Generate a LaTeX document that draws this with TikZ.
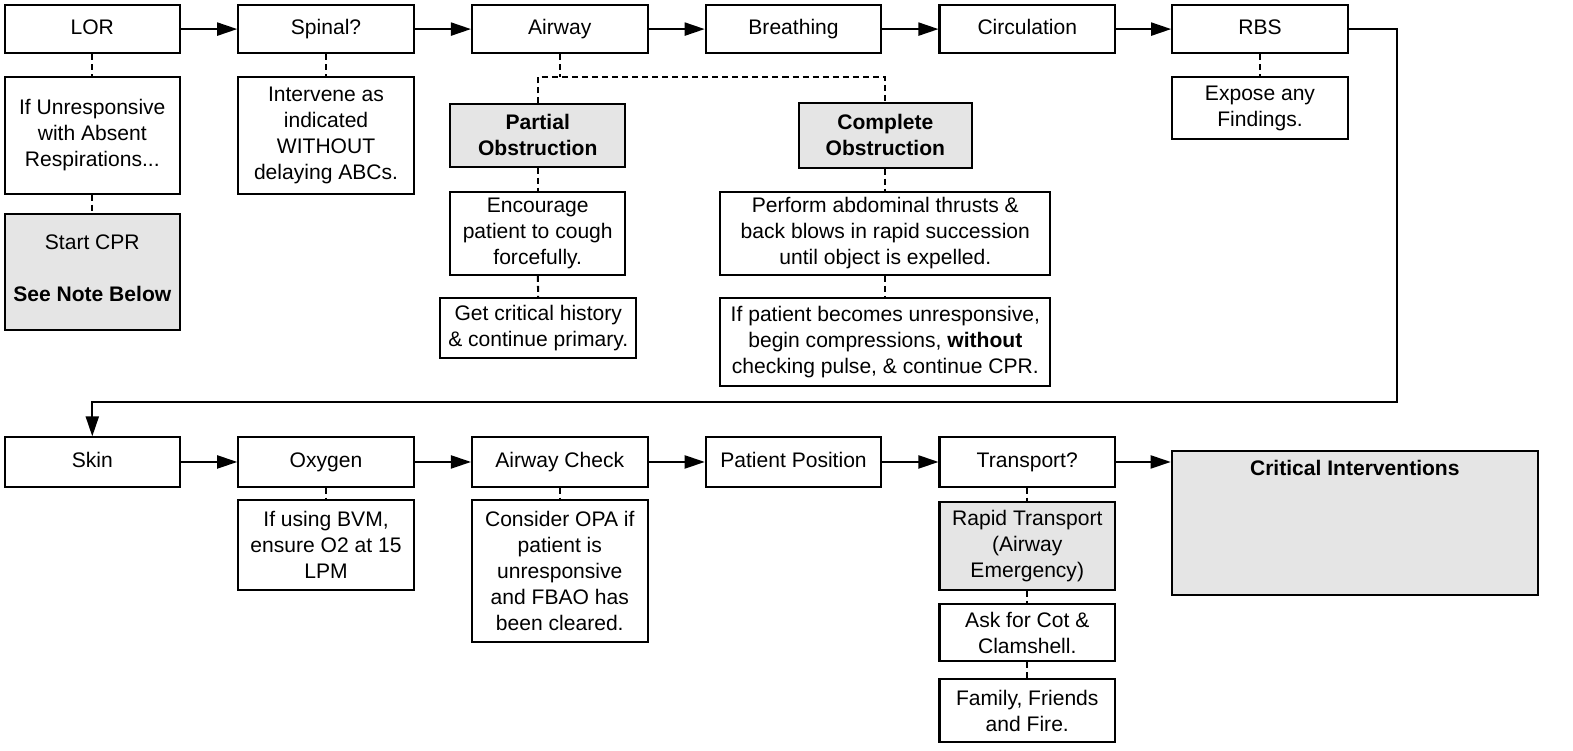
\documentclass[tikz,border=0pt]{standalone}
\usepackage{fontspec}
\setmainfont{Liberation Sans}
\usetikzlibrary{arrows.meta}
\definecolor{boxgray}{RGB}{229,229,229}
\begin{document}
\begin{tikzpicture}[x=0.5pt,y=-0.5pt,
  bx/.style={draw=black, line width=1pt, fill=white, inner sep=0pt, align=center,
    font=\fontsize{10.5}{13}\selectfont},
  gbx/.style={bx, fill=boxgray},
  one/.style={text height=8pt, text depth=2.6pt},
  sz/.style 2 args={minimum width=#1*0.5pt, minimum height=#2*0.5pt},
  conn/.style={line width=1pt, -{Triangle[length=10pt,width=6.5pt]}},
  dsh/.style={line width=1pt, dash pattern=on 3pt off 2pt}]
\useasboundingbox (0,0) rectangle (1568,748);
\fill[white] (0,0) rectangle (1568,748);

% top row
\node[bx, one, sz={175}{48}] (lor) at (92,29) {LOR};
\node[bx, one, sz={175}{48}] (spinal) at (325,29) {Spinal?};
\node[bx, one, sz={175}{48}] (airway) at (558,29) {Airway};
\node[bx, one, sz={175}{48}] (breath) at (791,29) {Breathing};
\node[bx, one, sz={175}{48}] (circ) at (1024,29) {Circulation};
\node[bx, one, sz={175}{48}] (rbs) at (1256,29) {RBS};

\node[bx, sz={175}{116}] (unresp) at (92,135) {If Unresponsive\\with Absent\\Respirations...};
\node[gbx, sz={175}{116}, text depth=3.8pt] (cpr) at (92,271) {Start CPR\\[13pt]\textbf{See Note Below}};
\node[bx, sz={175}{116}] (spnote) at (325,135) {Intervene as\\indicated\\WITHOUT\\delaying ABCs.};

\node[gbx, sz={174}{62}, font=\fontsize{10.5}{13}\selectfont\bfseries] (partial) at (536,135) {Partial\\Obstruction};
\node[bx, sz={174}{83}] (encourage) at (536,232.5) {Encourage\\patient to cough\\forcefully.};
\node[bx, sz={195}{60}] (history) at (536.5,327) {Get critical history\\\& continue primary.};

\node[gbx, sz={173}{64}, font=\fontsize{10.5}{13}\selectfont\bfseries] (complete) at (882.5,135) {Complete\\Obstruction};
\node[bx, sz={329}{83}] (perform) at (882.5,232.5) {Perform abdominal thrusts \&\\back blows in rapid succession\\until object is expelled.};
\node[bx, sz={329}{88}] (ifpat) at (882.5,341) {If patient becomes unresponsive,\\begin compressions, \textbf{without}\\checking pulse, \& continue CPR.};

\node[bx, sz={175}{62}] (expose) at (1256,108) {Expose any\\Findings.};

% bottom row
\node[bx, one, sz={175}{49}] (skin) at (92,460.5) {Skin};
\node[bx, one, sz={175}{49}] (oxy) at (325,460.5) {Oxygen};
\node[bx, one, sz={175}{49}] (awcheck) at (558,460.5) {Airway Check};
\node[bx, one, sz={175}{49}] (pos) at (791,460.5) {Patient Position};
\node[bx, one, sz={175}{49}] (transport) at (1024,460.5) {Transport?};
\node[gbx, sz={365}{143},
  label={[anchor=north, inner sep=0pt, yshift=-4.5pt, font=\fontsize{10.5}{13}\selectfont\bfseries]north:Critical Interventions}]
  (critical) at (1350.5,521.5) {};

\node[bx, sz={175}{90}] (bvm) at (325,543) {If using BVM,\\ensure O2 at 15\\LPM};
\node[bx, sz={175}{142}] (opa) at (558,569) {Consider OPA if\\patient is\\unresponsive\\and FBAO has\\been cleared.};
\node[gbx, sz={175}{88}] (rapid) at (1024,544) {Rapid Transport\\(Airway\\Emergency)};
\node[bx, sz={175}{57}] (cot) at (1024,630.5) {Ask for Cot \&\\Clamshell.};
\node[bx, sz={175}{63}] (family) at (1024,708.5) {Family, Friends\\and Fire.};

% arrows top
\draw[conn] (lor) -- (spinal);
\draw[conn] (spinal) -- (airway);
\draw[conn] (airway) -- (breath);
\draw[conn] (breath) -- (circ);
\draw[conn] (circ) -- (rbs);
\coordinate (loopR) at (1393,401);
\draw[conn] (rbs.east) -| (loopR) -| (skin.north);

% arrows bottom
\draw[conn] (skin) -- (oxy);
\draw[conn] (oxy) -- (awcheck);
\draw[conn] (awcheck) -- (pos);
\draw[conn] (pos) -- (transport);
\draw[conn] (transport.east) -- (transport.east -| critical.west);

% dashed
\draw[dsh] (lor) -- (unresp);
\draw[dsh] (unresp) -- (cpr);
\draw[dsh] (spinal) -- (spnote);
\coordinate (bus) at (558,77);
\draw[dsh] (airway) -- (bus);
\draw[dsh] (partial.north) |- (bus) -| (complete.north);
\draw[dsh] (partial) -- (encourage);
\draw[dsh] (encourage) -- (history);
\draw[dsh] (complete) -- (perform);
\draw[dsh] (perform) -- (ifpat);
\draw[dsh] (rbs) -- (expose);
\draw[dsh] (oxy) -- (bvm);
\draw[dsh] (awcheck) -- (opa);
\draw[dsh] (transport) -- (rapid);
\draw[dsh] (rapid) -- (cot);
\draw[dsh] (cot) -- (family);
\end{tikzpicture}
\end{document}
